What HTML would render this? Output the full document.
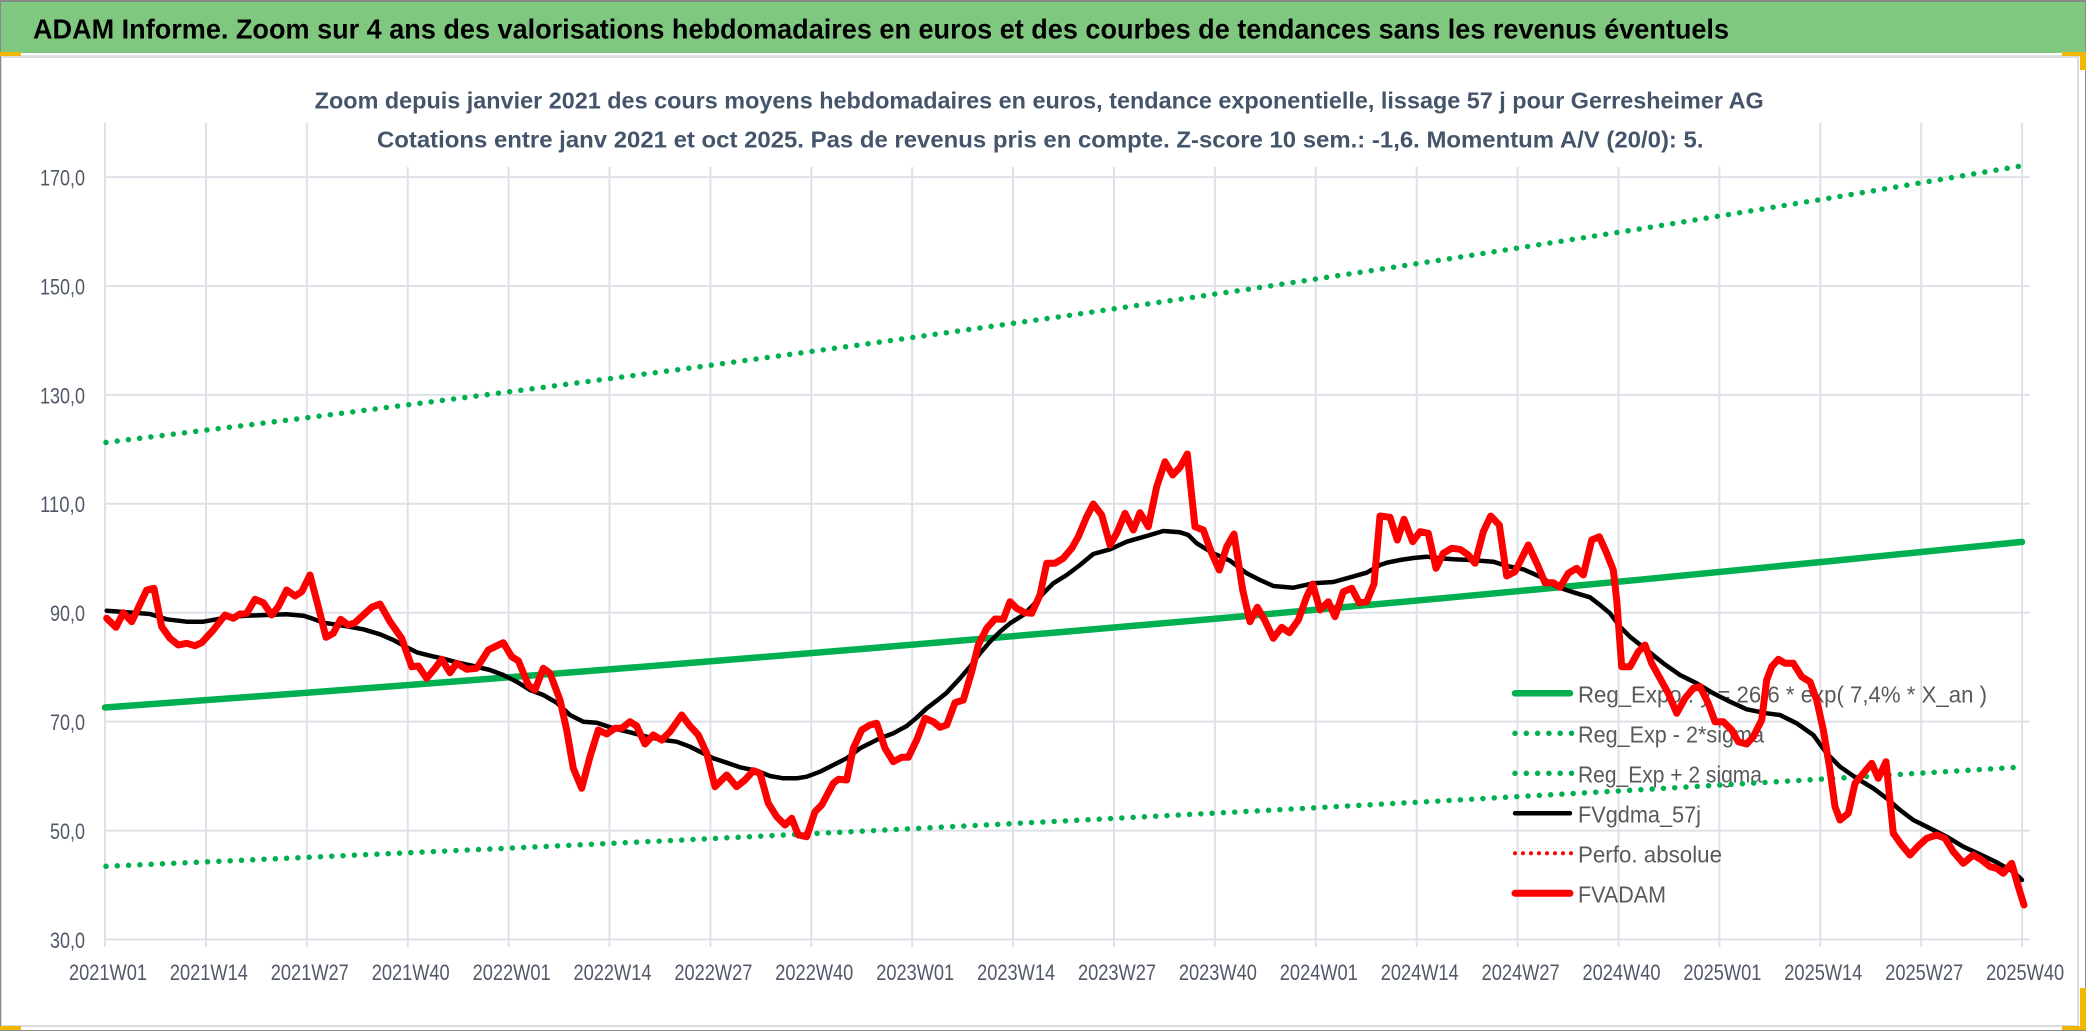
<!DOCTYPE html>
<html><head><meta charset="utf-8"><style>
html,body{margin:0;padding:0;background:#fff;}
body{width:2086px;height:1031px;overflow:hidden;}
svg{display:block;}
text{font-family:"Liberation Sans Narrow","Liberation Sans",sans-serif;}
</style></head><body>
<svg width="2086" height="1031" viewBox="0 0 2086 1031" xmlns="http://www.w3.org/2000/svg">
<rect x="0" y="0" width="2086" height="1031" fill="#fff"/>
<!-- title bar -->
<rect x="0" y="0" width="2086" height="53" fill="#80c77f"/>
<rect x="0" y="0" width="2086" height="2" fill="#7d8a7d"/>
<rect x="0" y="55" width="2086" height="2" fill="#dfe2e7"/>
<text x="33" y="38.5" font-size="28" font-weight="bold" fill="#000" textLength="1696" lengthAdjust="spacingAndGlyphs" style="font-family:'Liberation Sans',sans-serif">ADAM Informe. Zoom sur 4 ans des valorisations hebdomadaires en euros et des courbes de tendances sans les revenus éventuels</text>
<!-- frame -->
<rect x="1" y="57" width="2077" height="969" fill="none" stroke="#d9dbe0" stroke-width="2"/>
<rect x="0.5" y="0.5" width="2085" height="1030" fill="none" stroke="#8a8a8a" stroke-width="1"/>
<!-- gridlines -->
<g stroke="#dde1e8" stroke-width="2">
<line x1="105" y1="177.1" x2="2030" y2="177.1"/>
<line x1="105" y1="286" x2="2030" y2="286"/>
<line x1="105" y1="394.9" x2="2030" y2="394.9"/>
<line x1="105" y1="503.8" x2="2030" y2="503.8"/>
<line x1="105" y1="612.7" x2="2030" y2="612.7"/>
<line x1="105" y1="721.6" x2="2030" y2="721.6"/>
<line x1="105" y1="830.6" x2="2030" y2="830.6"/>
<line x1="105" y1="939.5" x2="2030" y2="939.5"/>
</g>
<g stroke="#dde1e8" stroke-width="2">
<line x1="105" y1="123" x2="105" y2="947"/>
<line x1="205.9" y1="123" x2="205.9" y2="947"/>
<line x1="306.8" y1="123" x2="306.8" y2="947"/>
<line x1="407.7" y1="123" x2="407.7" y2="947"/>
<line x1="508.6" y1="123" x2="508.6" y2="947"/>
<line x1="609.5" y1="123" x2="609.5" y2="947"/>
<line x1="710.4" y1="123" x2="710.4" y2="947"/>
<line x1="811.3" y1="123" x2="811.3" y2="947"/>
<line x1="912.2" y1="123" x2="912.2" y2="947"/>
<line x1="1013.1" y1="123" x2="1013.1" y2="947"/>
<line x1="1114" y1="123" x2="1114" y2="947"/>
<line x1="1214.9" y1="123" x2="1214.9" y2="947"/>
<line x1="1315.8" y1="123" x2="1315.8" y2="947"/>
<line x1="1416.7" y1="123" x2="1416.7" y2="947"/>
<line x1="1517.6" y1="123" x2="1517.6" y2="947"/>
<line x1="1618.5" y1="123" x2="1618.5" y2="947"/>
<line x1="1719.4" y1="123" x2="1719.4" y2="947"/>
<line x1="1820.3" y1="123" x2="1820.3" y2="947"/>
<line x1="1921.2" y1="123" x2="1921.2" y2="947"/>
<line x1="2022.1" y1="123" x2="2022.1" y2="947"/>
</g>
<!-- subtitle box -->
<rect x="311" y="60" width="1476" height="107" fill="#fff"/>
<text x="314.7" y="108.5" font-size="23" font-weight="bold" fill="#44546a" textLength="1449" lengthAdjust="spacingAndGlyphs">Zoom depuis janvier 2021 des cours moyens hebdomadaires en euros, tendance exponentielle, lissage 57 j pour Gerresheimer AG</text>
<text x="377" y="147.5" font-size="23" font-weight="bold" fill="#44546a" textLength="1326.5" lengthAdjust="spacingAndGlyphs">Cotations entre janv 2021 et oct 2025. Pas de revenus pris en compte. Z-score 10 sem.: -1,6. Momentum A/V (20/0): 5.</text>
<!-- y labels -->
<g font-size="22" fill="#505868" text-anchor="end">
<text x="85" y="185.5" textLength="45" lengthAdjust="spacingAndGlyphs">170,0</text>
<text x="85" y="294.4" textLength="45" lengthAdjust="spacingAndGlyphs">150,0</text>
<text x="85" y="403.3" textLength="45" lengthAdjust="spacingAndGlyphs">130,0</text>
<text x="85" y="512.2" textLength="45" lengthAdjust="spacingAndGlyphs">110,0</text>
<text x="85" y="621.1" textLength="35" lengthAdjust="spacingAndGlyphs">90,0</text>
<text x="85" y="730" textLength="35" lengthAdjust="spacingAndGlyphs">70,0</text>
<text x="85" y="839" textLength="35" lengthAdjust="spacingAndGlyphs">50,0</text>
<text x="85" y="947.9" textLength="35" lengthAdjust="spacingAndGlyphs">30,0</text>
</g>
<!-- x labels -->
<g font-size="22" fill="#505868" text-anchor="middle">
<text x="108" y="980" textLength="78" lengthAdjust="spacingAndGlyphs">2021W01</text>
<text x="208.9" y="980" textLength="78" lengthAdjust="spacingAndGlyphs">2021W14</text>
<text x="309.8" y="980" textLength="78" lengthAdjust="spacingAndGlyphs">2021W27</text>
<text x="410.7" y="980" textLength="78" lengthAdjust="spacingAndGlyphs">2021W40</text>
<text x="511.6" y="980" textLength="78" lengthAdjust="spacingAndGlyphs">2022W01</text>
<text x="612.5" y="980" textLength="78" lengthAdjust="spacingAndGlyphs">2022W14</text>
<text x="713.4" y="980" textLength="78" lengthAdjust="spacingAndGlyphs">2022W27</text>
<text x="814.3" y="980" textLength="78" lengthAdjust="spacingAndGlyphs">2022W40</text>
<text x="915.2" y="980" textLength="78" lengthAdjust="spacingAndGlyphs">2023W01</text>
<text x="1016.1" y="980" textLength="78" lengthAdjust="spacingAndGlyphs">2023W14</text>
<text x="1117" y="980" textLength="78" lengthAdjust="spacingAndGlyphs">2023W27</text>
<text x="1217.9" y="980" textLength="78" lengthAdjust="spacingAndGlyphs">2023W40</text>
<text x="1318.8" y="980" textLength="78" lengthAdjust="spacingAndGlyphs">2024W01</text>
<text x="1419.7" y="980" textLength="78" lengthAdjust="spacingAndGlyphs">2024W14</text>
<text x="1520.6" y="980" textLength="78" lengthAdjust="spacingAndGlyphs">2024W27</text>
<text x="1621.5" y="980" textLength="78" lengthAdjust="spacingAndGlyphs">2024W40</text>
<text x="1722.4" y="980" textLength="78" lengthAdjust="spacingAndGlyphs">2025W01</text>
<text x="1823.3" y="980" textLength="78" lengthAdjust="spacingAndGlyphs">2025W14</text>
<text x="1924.2" y="980" textLength="78" lengthAdjust="spacingAndGlyphs">2025W27</text>
<text x="2025.1" y="980" textLength="78" lengthAdjust="spacingAndGlyphs">2025W40</text>
</g>
<!-- legend text -->
<g font-size="23" fill="#595959">
<text x="1578" y="702.7" textLength="409" lengthAdjust="spacingAndGlyphs">Reg_Expo : y = 26,6 * exp( 7,4% *  X_an )</text>
<text x="1578" y="742.7" textLength="186" lengthAdjust="spacingAndGlyphs">Reg_Exp - 2*sigma</text>
<text x="1578" y="782.7" textLength="184" lengthAdjust="spacingAndGlyphs">Reg_Exp + 2 sigma</text>
<text x="1578" y="822.7" textLength="123" lengthAdjust="spacingAndGlyphs">FVgdma_57j</text>
<text x="1578" y="862.7" textLength="144" lengthAdjust="spacingAndGlyphs">Perfo. absolue</text>
<text x="1578" y="902.7" textLength="88" lengthAdjust="spacingAndGlyphs">FVADAM</text>
</g>
<!-- legend markers -->
<g fill="none" stroke-linecap="round">
<line x1="1515" y1="693.3" x2="1570" y2="693.3" stroke="#00b050" stroke-width="6.5"/>
<line x1="1515" y1="733.3" x2="1572" y2="733.3" stroke="#00b050" stroke-width="5.5" stroke-dasharray="0 11.3"/>
<line x1="1515" y1="773.3" x2="1572" y2="773.3" stroke="#00b050" stroke-width="5.5" stroke-dasharray="0 11.3"/>
<line x1="1515" y1="813.3" x2="1570" y2="813.3" stroke="#000" stroke-width="4.5"/>
<line x1="1515" y1="853.3" x2="1572" y2="853.3" stroke="#ff0000" stroke-width="4" stroke-dasharray="0 8"/>
<line x1="1515" y1="893.3" x2="1570" y2="893.3" stroke="#ff0000" stroke-width="7"/>
</g>
<!-- trend lines -->
<g fill="none" stroke-linecap="round" stroke-linejoin="round">
<polyline stroke="#00b050" stroke-width="6.5" points="105,707.5 296.7,693.5 488.4,678.9 680.1,663.8 871.8,648.1 1063.5,631.9 1255.2,615.2 1446.9,597.8 1638.6,579.8 1830.3,561.1 2022,541.9"/>
<polyline stroke="#00b050" stroke-width="5.5" stroke-dasharray="0 11.3" points="106,442.4 296.7,419 488.4,394.5 680.1,369.4 871.8,343.2 1063.5,316.2 1255.2,288.2 1446.9,259.1 1638.6,229.1 1830.3,198 2022,165.8"/>
<polyline stroke="#00b050" stroke-width="5.5" stroke-dasharray="0 11.3" points="106,866.3 296.7,857.8 488.4,849.1 680.1,840.1 871.8,830.7 1063.5,821 1255.2,811 1446.9,800.6 1638.6,789.8 1830.3,778.6 2022,767"/>
<polyline stroke="#000" stroke-width="4.5" points="106.7,610.7 123.3,612 150,614 166.7,619.3 186.7,621.7 203.3,621.7 216.7,619.3 230,616.7 246.7,615.7 266.7,615 286.7,614.3 303.3,615.7 311.7,618.3 323.3,622.7 343.3,625.7 363.3,629.3 380,634.3 393.3,640 406.7,647.3 416.7,652.3 430,655.7 443.3,658.7 456.7,662.3 473.3,666 490,670 503.3,675 516.7,681.7 530,690 543.3,695 556.7,702.7 570,715 583.3,721.7 596.7,722.7 613.3,728.3 630,732.3 646.7,736.7 663.3,740 676.7,741.7 690,746.7 703.3,753.3 713.3,758.3 726.7,762.7 740,767.3 756.7,770.7 770,776 783.3,778.3 796.7,778.3 806.7,776.7 820,771.7 833.3,765 846.7,758.3 860,748.3 880,738.3 893.3,733.3 906.7,726 916.7,717.7 926.7,708.3 936.7,700.7 946.7,692.7 960,678.3 970,666.7 980,653.3 990,641.7 1000,631.7 1010,623.3 1023.3,615 1033.3,605 1043.3,593.3 1053.3,583.3 1066.7,575 1080,565 1093.3,554 1110,549.3 1126.7,541.7 1146.7,536 1163.3,531 1180,532.3 1188.3,535 1196.7,543.3 1213.3,553.3 1230,560.7 1246.7,573.3 1260,580 1273.3,586 1293.3,587.7 1313.3,583.3 1333.3,582 1346.7,578.3 1366.7,572.7 1380,565 1386.7,562.7 1400,560 1413.3,558 1426.7,556.7 1440,558.3 1453.3,559.3 1470,560 1493.3,561.7 1506.7,566 1523.3,569.3 1540,576.7 1556.7,586.7 1573.3,592.3 1590,597.3 1600,605 1610,613.3 1620,626.7 1630,636.7 1646.7,650 1663.3,663.3 1680,675 1696.7,683.3 1713.3,693.3 1730,701.7 1746.7,709.3 1766.7,713.3 1780,715 1796.7,723.3 1813.3,735 1826.7,753.3 1840,766.7 1856.7,778.3 1873.3,788.3 1886.7,798.3 1900,810 1913.3,820 1930,828.3 1946.7,836.7 1963.3,846.7 1980,854.3 1996.7,862.3 2013.3,871.7 2022,880"/>
<polyline stroke="#ff0000" stroke-width="7" points="106.7,618.3 116,627.3 123.3,612.7 131.7,621.7 146.7,590 154,588.3 161.7,626.7 170,638.3 178.3,645 186.7,643.3 195,645.7 201.7,642.7 213.3,630 225,615 233.3,618.3 240,614 246.7,613.3 255,599.3 263.3,602.7 271.7,615 278.3,606.7 286.7,590 295,596 301.7,591.7 310,575 318.3,606.7 326,637.3 333.3,633.3 340.7,619.3 348.3,625 355,622.7 363.3,615 371.7,607.3 380,604 390,621.7 401.7,638.3 411.7,666.7 418.3,666 426.7,678.3 435,668.3 441.7,659.3 450,672.7 456.7,663.3 466.7,669.3 476.7,668.3 488.3,650 495,646.7 503.3,642.7 511.7,656.7 518.3,660.7 528.3,685 535,690 543.3,668.3 550,673.3 560,700 566.7,730 573.3,768.3 581.7,788.3 590,756.7 598.3,730 606.7,734 615,728.3 621.7,728.3 630,721.7 636.7,726 645,744 653.3,735 661.7,740 670,731.7 681.7,715 690,726 698.3,735 706.7,753.3 715,786.7 726.7,775 736.7,786.7 745,780 753.3,770.7 760,773.3 768.3,803.3 776.7,816.7 785,825 791.7,818.3 798.3,835 806.7,836.7 815,811.7 821.7,805 833.3,783.3 838.3,779.3 846.7,780 853.3,748.3 861.7,730 870,725 876.7,723.3 885,748.3 893.3,761.7 901.7,757.3 908.3,757.3 916.7,740 925,718.3 933.3,721.7 940,727.3 946.7,725 955,702.7 963.3,700 971.7,671.7 978.3,645 986.7,628.3 995,619 1003.3,619.3 1010,601.7 1016.7,608.3 1025,612.7 1031.7,613.3 1040,595 1046.7,563.3 1055,563.3 1063.3,558.3 1071.7,548.3 1078.3,536.7 1086.7,516.7 1093.3,504 1101.7,515 1110,545 1116.7,533.3 1125,513.3 1133.3,530 1140,512.7 1148.3,526.7 1156.7,486.7 1165,461.7 1172.7,475 1180,467.3 1187.3,454 1195,526.7 1203.3,530 1211.7,553.3 1219.3,570 1226.7,546.7 1234,534 1242.7,590 1250,621.7 1257.3,607.3 1265,620.7 1273.3,638.3 1281.7,627.3 1289.3,632.7 1298.3,620 1306.7,596.7 1312.7,584 1320,610 1328.3,601.7 1335,616.7 1343.3,591.7 1351.7,588.3 1359.3,602.7 1366.7,601.7 1374,584 1380,516 1390,517.3 1397.3,540 1404,519.3 1412.7,541.7 1420,531.7 1428.3,533.3 1436,568.3 1443.3,553.3 1451.7,548.3 1460,549.3 1468.3,555 1475,563.3 1483.3,531.7 1490.7,516 1499.3,525 1506.7,576 1515,571.7 1528.3,545 1538.3,566.7 1545,582.7 1553.3,582.7 1560,587.3 1568.3,573.3 1576.7,568.3 1583.3,575 1591.7,540 1599.3,536.7 1606.7,553.3 1613.3,570 1616.7,600 1621.7,666.7 1630,666.7 1638.3,651.7 1645,645 1651.7,663.3 1660,678.3 1668.3,693.3 1676.7,713.3 1685,698.3 1693.3,688.3 1700,686.7 1708.3,703.3 1715,721.7 1723.3,721.7 1731.7,730 1738.3,741.7 1746.7,744 1753.3,736.7 1761.7,720 1766.7,680 1771.7,666.7 1778.3,659.3 1785,663.3 1793.3,663.3 1801.7,676.7 1810,681.7 1816.7,700 1823.3,730 1830,770 1835,806.7 1840,820 1848.3,813.3 1855,783.3 1863.3,773.3 1871.7,763.3 1878.3,778.3 1886,761.7 1893.3,833.3 1901.7,845 1910,855 1918.3,846 1926.7,838.3 1936.7,835 1945,838.3 1953.3,851.7 1963.3,863.3 1973.3,855 1981.7,860 1990,866.7 1996.7,868.3 2003.3,873.3 2011.7,863.3 2018.3,886.7 2024,905"/>
</g>
<!-- selection handles -->
<g fill="#f2b705">
<rect x="0" y="52" width="21" height="4"/>
<rect x="0" y="1026" width="21" height="4"/>
<rect x="2062" y="52" width="24" height="4"/>
<rect x="2080" y="52" width="6" height="18"/>
<rect x="2080" y="988" width="6" height="42"/>
<rect x="2062" y="1026" width="24" height="4"/>
</g>
</svg>
</body></html>
